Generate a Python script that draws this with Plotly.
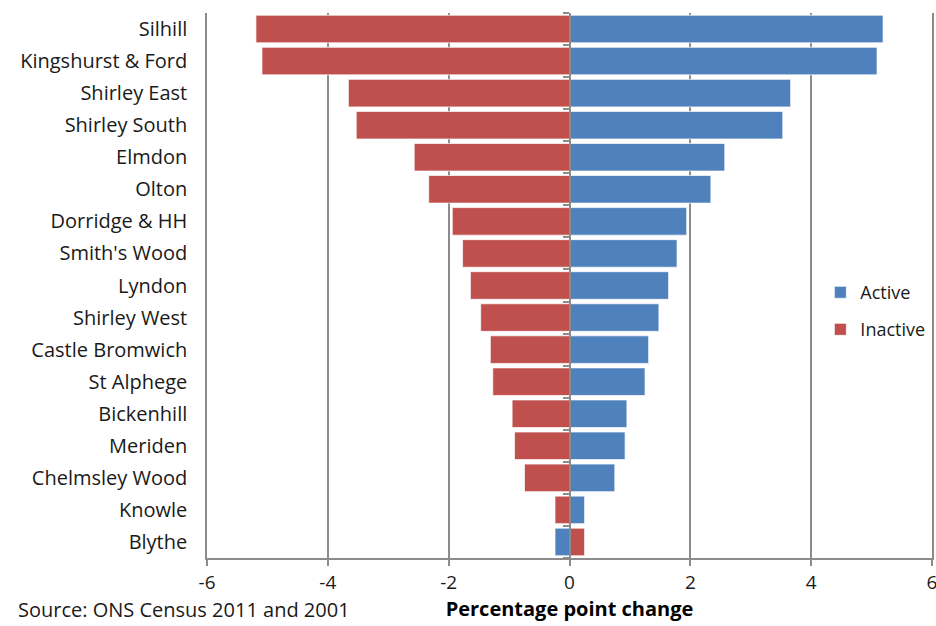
import plotly.graph_objects as go

# Wards, top to bottom
wards = [
    "Silhill", "Kingshurst & Ford", "Shirley East", "Shirley South", "Elmdon",
    "Olton", "Dorridge & HH", "Smith's Wood", "Lyndon", "Shirley West",
    "Castle Bromwich", "St Alphege", "Bickenhill", "Meriden", "Chelmsley Wood",
    "Knowle", "Blythe",
]
# Percentage point change 2001-2011
active = [5.19, 5.09, 3.66, 3.53, 2.57, 2.34, 1.94, 1.78, 1.64, 1.48,
          1.31, 1.25, 0.95, 0.92, 0.75, 0.25, -0.24]
inactive = [-5.19, -5.09, -3.66, -3.53, -2.57, -2.33, -1.94, -1.77, -1.64, -1.47,
            -1.31, -1.27, -0.95, -0.91, -0.745, -0.24, 0.25]
x_ticks = [-6, -4, -2, 0, 2, 4, 6]

BLUE = "#4F81BD"
RED = "#C0504D"
GRID = "#8c8c8c"
FONT = "Open Sans"
TEXT = "#1a1a1a"

fig = go.Figure()
fig.add_trace(go.Bar(
    y=wards, x=active, orientation="h", name="Active",
    marker=dict(color=BLUE, line=dict(color="rgba(255,255,255,0.7)", width=1)),
    legend="legend",
))
fig.add_trace(go.Bar(
    y=wards, x=inactive, orientation="h", name="Inactive",
    marker=dict(color=RED, line=dict(color="rgba(255,255,255,0.7)", width=1)),
    legend="legend2",
))

fig.update_layout(
    width=936, height=626,
    margin=dict(l=207, r=4, t=13, b=68, autoexpand=False),
    paper_bgcolor="white", plot_bgcolor="white",
    barmode="overlay", bargap=0.14,
    font=dict(family=FONT, size=20, color=TEXT),
    xaxis=dict(
        range=[-6, 6], tickvals=x_ticks, ticktext=[str(v) for v in x_ticks],
        showgrid=True, gridcolor=GRID, gridwidth=1.5,
        zeroline=False,
        showline=True, linecolor=GRID, linewidth=1.5,
        ticks="outside", ticklen=6, tickcolor=GRID, tickwidth=1.5,
        tickfont=dict(size=19), ticklabeloverflow="allow",
        title=dict(text="<b>Percentage point change</b>", standoff=2,
                   font=dict(size=20, color="#000")),
        automargin=False, fixedrange=True,
    ),
    yaxis=dict(
        categoryorder="array", categoryarray=wards, autorange="reversed",
        showgrid=False, zeroline=False,
        showline=True, mirror=True, linecolor=GRID, linewidth=1.5,
        ticks="outside", ticklen=14, tickcolor="rgba(0,0,0,0)",
        tickfont=dict(size=20),
        automargin=False, fixedrange=True,
    ),
    # category axis line drawn through zero, with boundary ticks
    yaxis2=dict(
        overlaying="y", anchor="free", position=0.5, side="left",
        range=[len(wards) - 0.5, -0.5],
        tickvals=[i - 0.5 for i in range(len(wards) + 1)],
        showticklabels=False, showgrid=False, zeroline=False,
        showline=True, linecolor=GRID, linewidth=1.5,
        ticks="outside", ticklen=6, tickcolor=GRID, tickwidth=1.5,
        automargin=False, fixedrange=True,
    ),
    legend=dict(x=0.846, y=0.487, xanchor="left", yanchor="middle",
                bgcolor="rgba(0,0,0,0)", font=dict(size=18)),
    legend2=dict(x=0.846, y=0.419, xanchor="left", yanchor="middle",
                 bgcolor="rgba(0,0,0,0)", font=dict(size=18)),
    showlegend=True,
)

# anchor trace for the zero-line category axis
fig.add_trace(go.Scatter(x=[None], y=[None], yaxis="y2", showlegend=False,
                         hoverinfo="skip"))

fig.add_annotation(
    text="Source: ONS Census 2011 and 2001", xref="paper", yref="paper",
    x=-0.263, y=-0.1247, xanchor="left", yanchor="bottom", yshift=1,
    showarrow=False, font=dict(size=20, color=TEXT),
)

fig.write_html("out.html")
